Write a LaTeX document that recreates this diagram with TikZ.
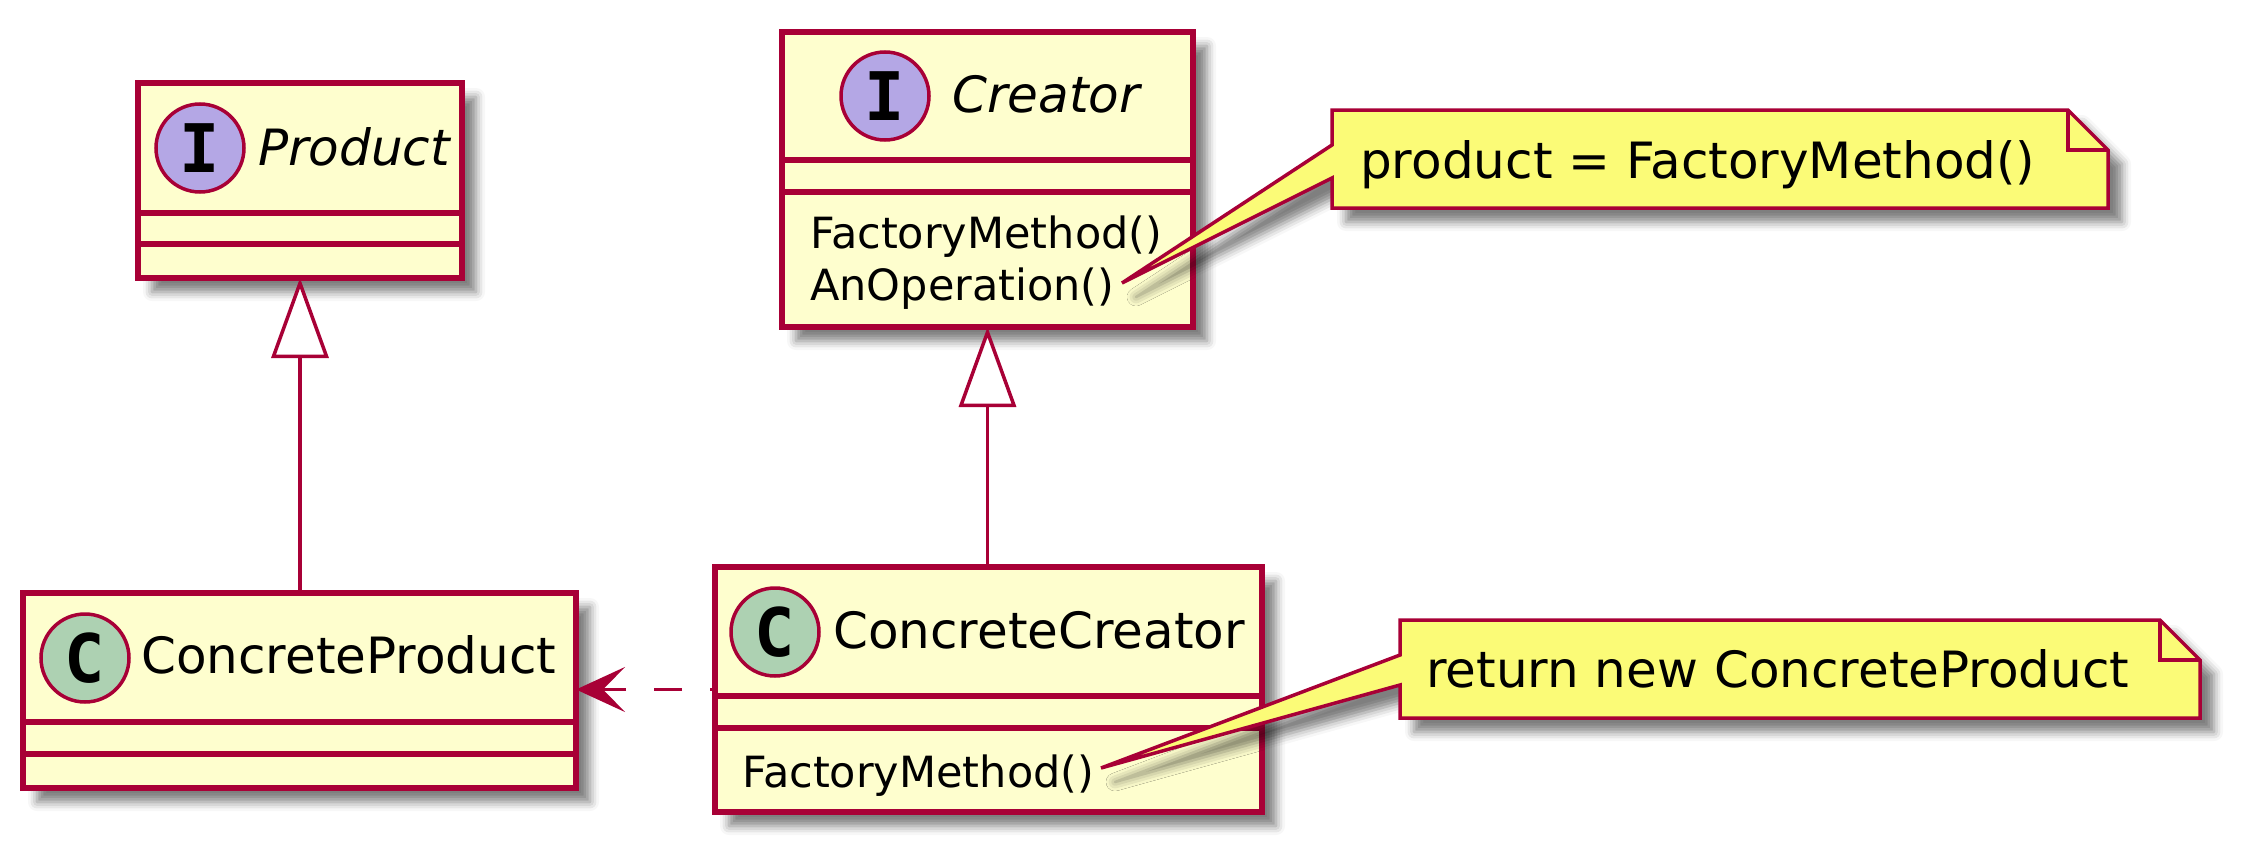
\documentclass[tikz,border=0pt]{standalone}
\usepackage{fontspec}
\setmainfont{DejaVu Sans}
\newfontfamily\circfont{DejaVu Sans Mono}
\usetikzlibrary{arrows.meta,calc,shadows.blur}
\definecolor{umlborder}{HTML}{A80036}
\definecolor{boxfill}{HTML}{FEFECE}
\definecolor{notefill}{HTML}{FBFB77}
\definecolor{ifill}{HTML}{B4A7E5}
\definecolor{cfill}{HTML}{ADD1B2}
\tikzset{
  shad/.style={blur shadow={shadow xshift=14pt, shadow yshift=-14pt, shadow blur radius=9pt, shadow opacity=50}},
  umlbox/.style={rectangle, draw=umlborder, fill=boxfill, line width=5.5pt, inner sep=0pt, outer sep=0pt, shad},
  sepline/.style={draw=umlborder, line width=5.5pt},
  circI/.style={circle, draw=umlborder, fill=ifill, line width=3.5pt, minimum size=88pt, inner sep=0pt, font=\circfont\bfseries\fontsize{67}{67}\selectfont},
  circC/.style={circI, fill=cfill},
  cname/.style={anchor=base west, inner sep=0pt, font=\fontsize{50}{60}\selectfont},
  iname/.style={cname, font=\itshape\fontsize{50}{60}\selectfont},
  mname/.style={anchor=base west, inner sep=0pt, font=\fontsize{43}{52}\selectfont},
  notetext/.style={anchor=base west, inner sep=0pt, font=\fontsize{50}{60}\selectfont},
  noteshape/.style={draw=umlborder, fill=notefill, line width=3.5pt, line join=miter, shad},
  inh/.style={draw=umlborder, line width=3.5pt, -{Triangle[open, length=80pt, width=57pt, fill=white]}},
  dep/.style={draw=umlborder, line width=3.5pt, dash pattern=on 28pt off 28pt, dash phase=23pt, -{Stealth[length=49pt, width=45pt, inset=22pt]}}
}
\begin{document}
\begin{tikzpicture}[x=1pt,y=-1pt]
\useasboundingbox (0,0) rectangle (2244,851);

% Product
\node[umlbox, minimum width=324pt, minimum height=195pt] (product) at (300,180.5) {};
\draw[sepline] ($(product.north west)+(0,130)$) -- ($(product.north east)+(0,130)$);
\draw[sepline] ($(product.north west)+(0,161)$) -- ($(product.north east)+(0,161)$);
\node[circI] (productI) at (200,148) {I};
\node[iname] (productname) at (258,165) {Product};

% Creator
\node[umlbox, minimum width=411pt, minimum height=295pt] (creator) at (987.5,179.5) {};
\draw[sepline] ($(creator.north west)+(0,128)$) -- ($(creator.north east)+(0,128)$);
\draw[sepline] ($(creator.north west)+(0,160)$) -- ($(creator.north east)+(0,160)$);
\node[circI] (creatorI) at (885,96) {I};
\node[iname] (creatorname) at (952,112) {Creator};
\node[mname] (cfm) at (810,248) {FactoryMethod()};
\node[mname] (caop) at (810,300) {AnOperation()};

% ConcreteProduct
\node[umlbox, minimum width=553pt, minimum height=195pt] (cprod) at (299.5,690.5) {};
\draw[sepline] ($(cprod.north west)+(0,129)$) -- ($(cprod.north east)+(0,129)$);
\draw[sepline] ($(cprod.north west)+(0,161)$) -- ($(cprod.north east)+(0,161)$);
\node[circC] (cprodC) at (85,658) {C};
\node[cname] (cprodname) at (141,673) {ConcreteProduct};

% ConcreteCreator
\node[umlbox, minimum width=547pt, minimum height=245pt] (ccreator) at (988.5,689.5) {};
\draw[sepline] ($(ccreator.north west)+(0,129)$) -- ($(ccreator.north east)+(0,129)$);
\draw[sepline] ($(ccreator.north west)+(0,161)$) -- ($(ccreator.north east)+(0,161)$);
\node[circC] (ccreatorC) at (775,632) {C};
\node[cname] (ccreatorname) at (833,648) {ConcreteCreator};
\node[mname] (ccfm) at (742,787) {FactoryMethod()};

% connectors
\draw[inh] (product.south |- cprod.north) -- (product.south);
\draw[inh] (creator.south |- ccreator.north) -- (creator.south);
\draw[dep] (ccreator.west) -- (ccreator.west -| cprod.east);

% note 1
\coordinate (aop) at (1122,283);
\coordinate (n1nw) at (1332,110);
\coordinate (n1se) at (2108,208);
\filldraw[noteshape] (n1nw) -- ($(n1se |- n1nw)+(-40,0)$) -- ($(n1se |- n1nw)+(0,40)$) -- (n1se) -- (n1nw |- n1se) -- ($(n1nw)+(0,68)$) -- (aop) -- ($(n1nw)+(0,35)$) -- cycle;
\draw[draw=umlborder, line width=3.5pt] ($(n1se |- n1nw)+(-40,0)$) |- ($(n1se |- n1nw)+(0,40)$);
\node[notetext] (note1) at (1360,178) {product = FactoryMethod()};

% note 2
\coordinate (fm2) at (1101,768);
\coordinate (n2nw) at (1400,620);
\coordinate (n2se) at (2200,718);
\filldraw[noteshape] (n2nw) -- ($(n2se |- n2nw)+(-40,0)$) -- ($(n2se |- n2nw)+(0,40)$) -- (n2se) -- (n2nw |- n2se) -- ($(n2nw)+(0,65)$) -- (fm2) -- ($(n2nw)+(0,35)$) -- cycle;
\draw[draw=umlborder, line width=3.5pt] ($(n2se |- n2nw)+(-40,0)$) |- ($(n2se |- n2nw)+(0,40)$);
\node[notetext] (note2) at (1426,687) {return new ConcreteProduct};
\end{tikzpicture}
\end{document}
